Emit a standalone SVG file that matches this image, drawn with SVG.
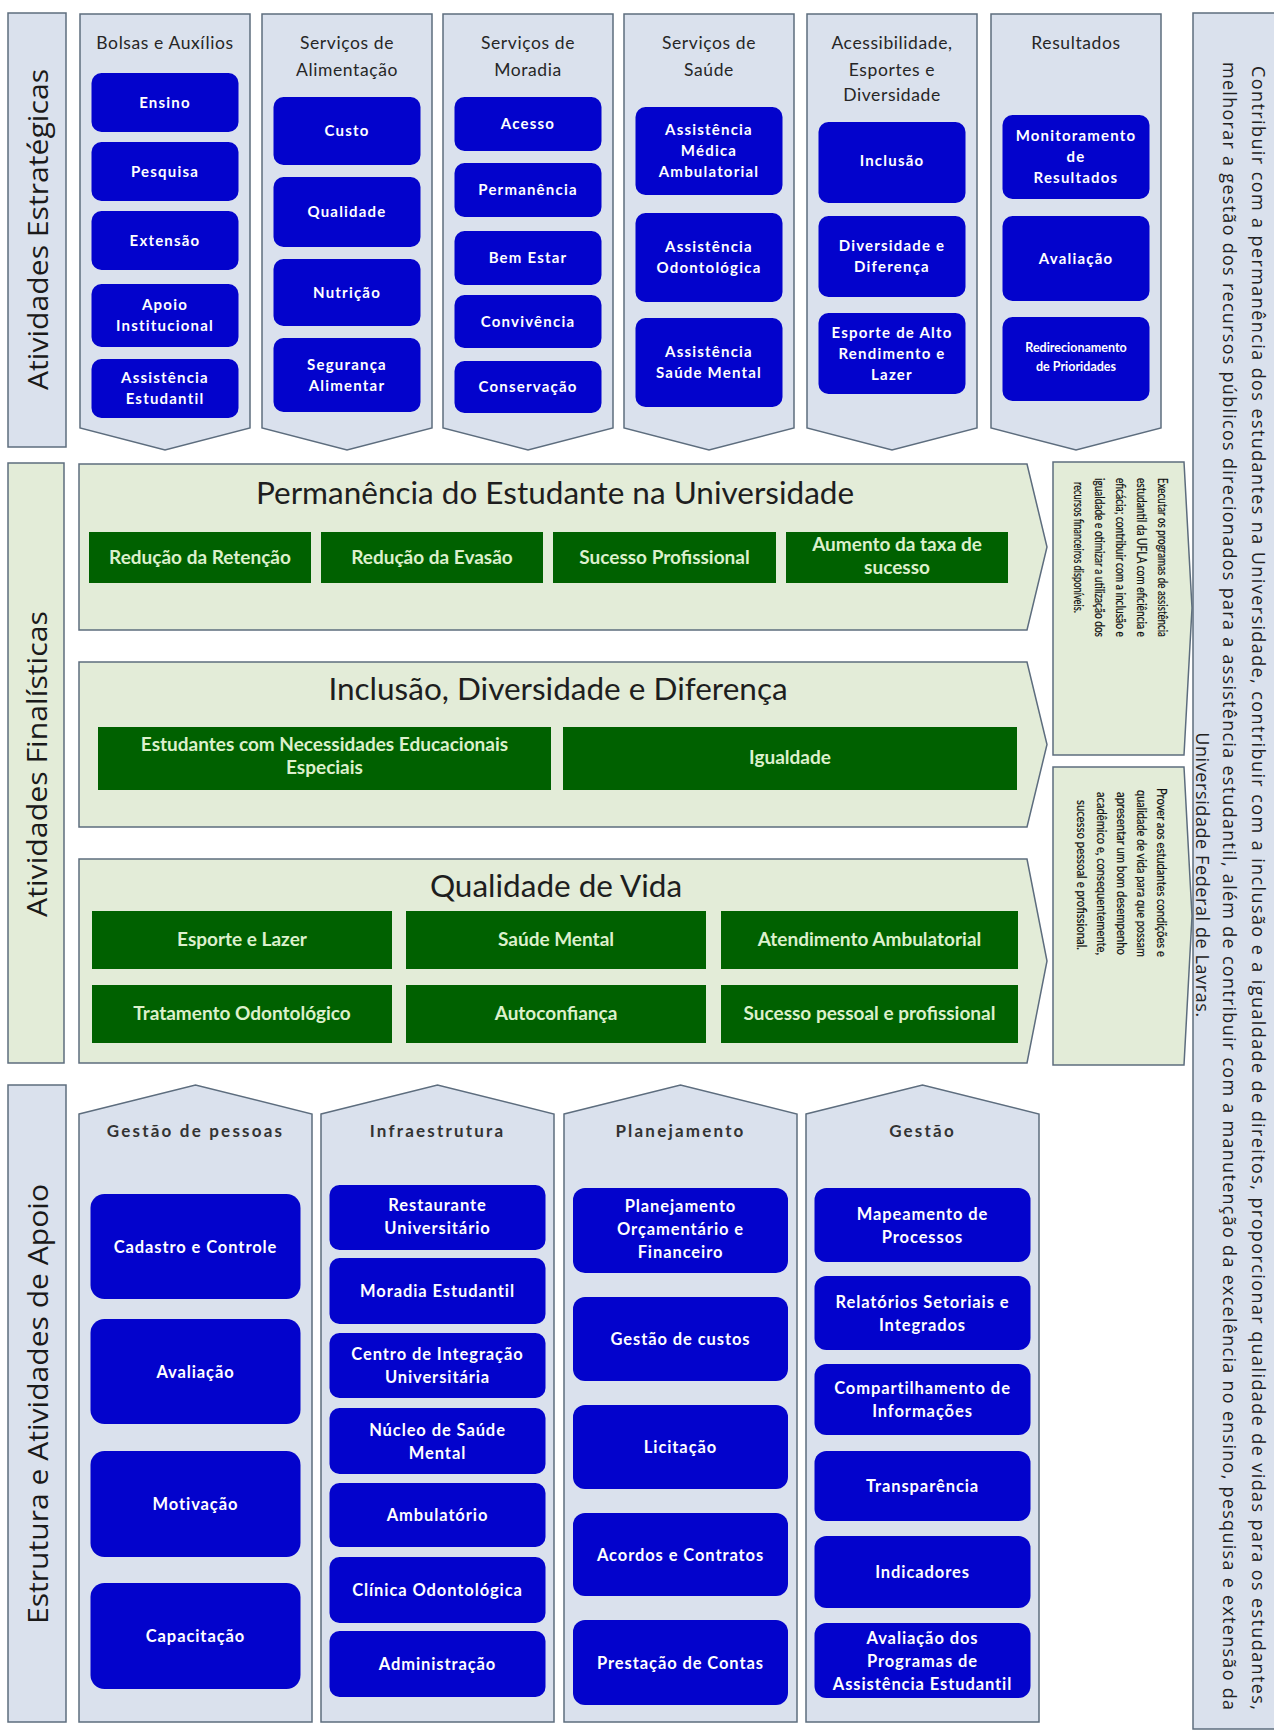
<svg xmlns="http://www.w3.org/2000/svg" width="1274" height="1736" viewBox="0 0 1274 1736">
  <style>
    .pb { fill: #dae1ed; stroke: #5d6d7e; stroke-width: 1.5; }
    .pg { fill: #e3ecd8; stroke: #5d6d7e; stroke-width: 1.5; }
    .blue { fill: #0303cc; }
    .green { fill: #006100; }
    .lbl { font-family: "Open Sans", "Liberation Sans", sans-serif; font-size: 27px; fill: #1a1a1a; text-anchor: middle; }
    .hdr { font-family: Lato, "Liberation Sans", sans-serif; font-size: 17.5px; fill: #262626; text-anchor: middle; letter-spacing: 0.6px; }
    .hdrb { font-family: Lato, "Liberation Sans", sans-serif; font-size: 17px; font-weight: bold; fill: #333333; text-anchor: middle; letter-spacing: 2.2px; }
    .bt { font-family: Lato, "Liberation Sans", sans-serif; font-size: 15px; font-weight: bold; fill: #ffffff; text-anchor: middle; letter-spacing: 1.2px; }
    .bts { font-family: Lato, "Liberation Sans", sans-serif; font-size: 12.5px; font-weight: bold; fill: #ffffff; text-anchor: middle; }
    .bb { font-family: Lato, "Liberation Sans", sans-serif; font-size: 16.5px; font-weight: bold; fill: #ffffff; text-anchor: middle; letter-spacing: 0.9px; }
    .gt { font-family: Lato, "Liberation Sans", sans-serif; font-size: 19px; font-weight: bold; fill: #dcf0cc; text-anchor: middle; }
    .ttl { font-family: Lato, "Liberation Sans", sans-serif; font-size: 31.5px; fill: #1e1e1e; text-anchor: middle; }
    .sm { font-family: Lato, "Liberation Sans", sans-serif; font-size: 12.5px; fill: #0f0f0f; stroke: #0f0f0f; stroke-width: 0.2px; }
    .big { font-family: "Open Sans", "Liberation Sans", sans-serif; font-size: 18px; fill: #222222; }
  </style>

  <rect width="1274" height="1736" fill="#ffffff"/>

  <!-- Side labels -->
  <g id="label-estrategicas">
    <rect class="pb" x="8" y="13" width="58" height="434"/>
    <text class="lbl" transform="translate(48,229.5) rotate(-90)" textLength="321" lengthAdjust="spacingAndGlyphs">Atividades Estratégicas</text>
  </g>
  <g id="label-finalisticas">
    <rect class="pg" x="8" y="463" width="56" height="600"/>
    <text class="lbl" transform="translate(47,764) rotate(-90)" textLength="306" lengthAdjust="spacingAndGlyphs">Atividades Finalísticas</text>
  </g>
  <g id="label-apoio">
    <rect class="pb" x="8" y="1085" width="58" height="637"/>
    <text class="lbl" transform="translate(48,1404) rotate(-90)" textLength="440" lengthAdjust="spacingAndGlyphs">Estrutura e Atividades de Apoio</text>
  </g>

  <!-- Mission statement -->
  <g id="missao">
    <rect class="pb" x="1193" y="13" width="100" height="1716"/>
    <text class="big" transform="translate(1252,66) rotate(90)" textLength="1644" lengthAdjust="spacing">Contribuir com a permanência dos estudantes na Universidade, contribuir com a inclusão e a igualdade de direitos, proporcionar qualidade de vidas para os estudantes,</text>
    <text class="big" transform="translate(1223,62) rotate(90)" textLength="1648" lengthAdjust="spacing">melhorar a gestão dos recursos públicos direcionados para a assistência estudantil, além de contribuir com a manutenção da excelência no ensino, pesquisa e extensão da</text>
    <text class="big" transform="translate(1196,875) rotate(90)" text-anchor="middle" letter-spacing="0.6">Universidade Federal de Lavras.</text>
  </g>

  <!-- Strategic activity columns -->
  <g id="col-bolsas">
    <polygon class="pb" points="80,14 250,14 250,428 165,450 80,428"/>
    <text class="hdr" x="165" y="49">Bolsas e Auxílios</text>
    <rect class="blue" x="91.5" y="73" width="147" height="59" rx="10"/>
    <text class="bt" x="165" y="107.5">Ensino</text>
    <rect class="blue" x="91.5" y="142" width="147" height="59" rx="10"/>
    <text class="bt" x="165" y="176.5">Pesquisa</text>
    <rect class="blue" x="91.5" y="211" width="147" height="59" rx="10"/>
    <text class="bt" x="165" y="245.5">Extensão</text>
    <rect class="blue" x="91.5" y="284" width="147" height="63" rx="10"/>
    <text class="bt" x="165" y="310">Apoio</text>
    <text class="bt" x="165" y="331">Institucional</text>
    <rect class="blue" x="91.5" y="359" width="147" height="59" rx="10"/>
    <text class="bt" x="165" y="383">Assistência</text>
    <text class="bt" x="165" y="404">Estudantil</text>
  </g>

  <g id="col-alimentacao">
    <polygon class="pb" points="262,14 432,14 432,428 347,450 262,428"/>
    <text class="hdr" x="347" y="49">Serviços de</text>
    <text class="hdr" x="347" y="76">Alimentação</text>
    <rect class="blue" x="273.5" y="97" width="147" height="68" rx="10"/>
    <text class="bt" x="347" y="136">Custo</text>
    <rect class="blue" x="273.5" y="177" width="147" height="70" rx="10"/>
    <text class="bt" x="347" y="217">Qualidade</text>
    <rect class="blue" x="273.5" y="259" width="147" height="67" rx="10"/>
    <text class="bt" x="347" y="297.5">Nutrição</text>
    <rect class="blue" x="273.5" y="338" width="147" height="74" rx="10"/>
    <text class="bt" x="347" y="369.5">Segurança</text>
    <text class="bt" x="347" y="390.5">Alimentar</text>
  </g>

  <g id="col-moradia">
    <polygon class="pb" points="443,14 613,14 613,428 528,450 443,428"/>
    <text class="hdr" x="528" y="49">Serviços de</text>
    <text class="hdr" x="528" y="76">Moradia</text>
    <rect class="blue" x="454.5" y="97" width="147" height="54" rx="10"/>
    <text class="bt" x="528" y="129">Acesso</text>
    <rect class="blue" x="454.5" y="163" width="147" height="54" rx="10"/>
    <text class="bt" x="528" y="195">Permanência</text>
    <rect class="blue" x="454.5" y="231" width="147" height="54" rx="10"/>
    <text class="bt" x="528" y="263">Bem Estar</text>
    <rect class="blue" x="454.5" y="295" width="147" height="53" rx="10"/>
    <text class="bt" x="528" y="326.5">Convivência</text>
    <rect class="blue" x="454.5" y="361" width="147" height="52" rx="10"/>
    <text class="bt" x="528" y="392">Conservação</text>
  </g>

  <g id="col-saude">
    <polygon class="pb" points="624,14 794,14 794,428 709,450 624,428"/>
    <text class="hdr" x="709" y="49">Serviços de</text>
    <text class="hdr" x="709" y="76">Saúde</text>
    <rect class="blue" x="635.5" y="107" width="147" height="88" rx="10"/>
    <text class="bt" x="709" y="135">Assistência</text>
    <text class="bt" x="709" y="156">Médica</text>
    <text class="bt" x="709" y="177">Ambulatorial</text>
    <rect class="blue" x="635.5" y="213" width="147" height="89" rx="10"/>
    <text class="bt" x="709" y="252">Assistência</text>
    <text class="bt" x="709" y="273">Odontológica</text>
    <rect class="blue" x="635.5" y="318" width="147" height="89" rx="10"/>
    <text class="bt" x="709" y="357">Assistência</text>
    <text class="bt" x="709" y="378">Saúde Mental</text>
  </g>

  <g id="col-acessibilidade">
    <polygon class="pb" points="807,14 977,14 977,428 892,450 807,428"/>
    <text class="hdr" x="892" y="49">Acessibilidade,</text>
    <text class="hdr" x="892" y="76">Esportes e</text>
    <text class="hdr" x="892" y="101">Diversidade</text>
    <rect class="blue" x="818.5" y="122" width="147" height="81" rx="10"/>
    <text class="bt" x="892" y="166">Inclusão</text>
    <rect class="blue" x="818.5" y="216" width="147" height="81" rx="10"/>
    <text class="bt" x="892" y="251">Diversidade e</text>
    <text class="bt" x="892" y="272">Diferença</text>
    <rect class="blue" x="818.5" y="313" width="147" height="81" rx="10"/>
    <text class="bt" x="892" y="337.5">Esporte de Alto</text>
    <text class="bt" x="892" y="358.5">Rendimento e</text>
    <text class="bt" x="892" y="379.5">Lazer</text>
  </g>

  <g id="col-resultados">
    <polygon class="pb" points="991,14 1161,14 1161,428 1076,450 991,428"/>
    <text class="hdr" x="1076" y="49">Resultados</text>
    <rect class="blue" x="1002.5" y="115" width="147" height="84" rx="10"/>
    <text class="bt" x="1076" y="141">Monitoramento</text>
    <text class="bt" x="1076" y="162">de</text>
    <text class="bt" x="1076" y="183">Resultados</text>
    <rect class="blue" x="1002.5" y="216" width="147" height="85" rx="10"/>
    <text class="bt" x="1076" y="263.5">Avaliação</text>
    <rect class="blue" x="1002.5" y="317" width="147" height="84" rx="10"/>
    <text class="bts" x="1076" y="352">Redirecionamento</text>
    <text class="bts" x="1076" y="371">de Prioridades</text>
  </g>

  <!-- Final activities (chevron bands) -->
  <g id="band-permanencia">
    <polygon class="pg" points="79,464 1027,464 1047,547 1027,630 79,630"/>
    <text class="ttl" x="555" y="504">Permanência do Estudante na Universidade</text>
    <rect class="green" x="89" y="532" width="222" height="51"/>
    <text class="gt" x="200" y="564">Redução da Retenção</text>
    <rect class="green" x="321" y="532" width="222" height="51"/>
    <text class="gt" x="432" y="564">Redução da Evasão</text>
    <rect class="green" x="553" y="532" width="223" height="51"/>
    <text class="gt" x="664.5" y="564">Sucesso Profissional</text>
    <rect class="green" x="786" y="532" width="222" height="51"/>
    <text class="gt" x="897" y="551">Aumento da taxa de</text>
    <text class="gt" x="897" y="574">sucesso</text>
  </g>

  <g id="band-inclusao">
    <polygon class="pg" points="79,662 1027,662 1047,744.5 1027,827 79,827"/>
    <text class="ttl" x="558" y="700">Inclusão, Diversidade e Diferença</text>
    <rect class="green" x="98" y="727" width="453" height="63"/>
    <text class="gt" x="324.5" y="751">Estudantes com Necessidades Educacionais</text>
    <text class="gt" x="324.5" y="774">Especiais</text>
    <rect class="green" x="563" y="727" width="454" height="63"/>
    <text class="gt" x="790" y="764">Igualdade</text>
  </g>

  <g id="band-qualidade">
    <polygon class="pg" points="79,859 1027,859 1047,961 1027,1063 79,1063"/>
    <text class="ttl" x="556" y="897">Qualidade de Vida</text>
    <rect class="green" x="92" y="911" width="300" height="58"/>
    <text class="gt" x="242" y="946">Esporte e Lazer</text>
    <rect class="green" x="406" y="911" width="300" height="58"/>
    <text class="gt" x="556" y="946">Saúde Mental</text>
    <rect class="green" x="721" y="911" width="297" height="58"/>
    <text class="gt" x="869.5" y="946">Atendimento Ambulatorial</text>
    <rect class="green" x="92" y="985" width="300" height="58"/>
    <text class="gt" x="242" y="1020">Tratamento Odontológico</text>
    <rect class="green" x="406" y="985" width="300" height="58"/>
    <text class="gt" x="556" y="1020">Autoconfiança</text>
    <rect class="green" x="721" y="985" width="297" height="58"/>
    <text class="gt" x="869.5" y="1020">Sucesso pessoal e profissional</text>
  </g>

  <!-- Objective notes -->
  <g id="objetivo-programas">
    <polygon class="pg" points="1053,462 1184,462 1192,608 1184,755 1053,755"/>
    <text class="sm" transform="translate(1158,478) rotate(90)" textLength="159" lengthAdjust="spacingAndGlyphs">Executar os programas de assistência</text>
    <text class="sm" transform="translate(1137,478) rotate(90)" textLength="159" lengthAdjust="spacingAndGlyphs">estudantil da UFLA com eficiência e</text>
    <text class="sm" transform="translate(1116,478) rotate(90)" textLength="159" lengthAdjust="spacingAndGlyphs">eficácia; contribuir com a inclusão e</text>
    <text class="sm" transform="translate(1095,478) rotate(90)" textLength="159" lengthAdjust="spacingAndGlyphs">igualdade e otimizar a utilização dos</text>
    <text class="sm" transform="translate(1074,482) rotate(90)" textLength="131" lengthAdjust="spacingAndGlyphs">recursos financeiros disponíveis.</text>
  </g>

  <g id="objetivo-qualidade">
    <polygon class="pg" points="1053,767 1184,767 1192,916 1184,1065 1053,1065"/>
    <text class="sm" transform="translate(1157,788) rotate(90)" textLength="169" lengthAdjust="spacingAndGlyphs">Prover aos estudantes condições e</text>
    <text class="sm" transform="translate(1137,790) rotate(90)" textLength="167" lengthAdjust="spacingAndGlyphs">qualidade de vida para que possam</text>
    <text class="sm" transform="translate(1117,792) rotate(90)" textLength="163" lengthAdjust="spacingAndGlyphs">apresentar um bom desempenho</text>
    <text class="sm" transform="translate(1097,792) rotate(90)" textLength="163" lengthAdjust="spacingAndGlyphs">acadêmico e, consequentemente,</text>
    <text class="sm" transform="translate(1077,800) rotate(90)" textLength="150" lengthAdjust="spacingAndGlyphs">sucesso pessoal e profissional.</text>
  </g>

  <!-- Support structure columns -->
  <g id="apoio-pessoas">
    <polygon class="pb" points="79,1114 195.5,1085 312,1114 312,1722 79,1722"/>
    <text class="hdrb" x="195.5" y="1137">Gestão de pessoas</text>
    <rect class="blue" x="90.5" y="1194" width="210" height="105" rx="14"/>
    <text class="bb" x="195.5" y="1252.5">Cadastro e Controle</text>
    <rect class="blue" x="90.5" y="1319" width="210" height="105" rx="14"/>
    <text class="bb" x="195.5" y="1377.5">Avaliação</text>
    <rect class="blue" x="90.5" y="1451" width="210" height="106" rx="14"/>
    <text class="bb" x="195.5" y="1510">Motivação</text>
    <rect class="blue" x="90.5" y="1583" width="210" height="106" rx="14"/>
    <text class="bb" x="195.5" y="1642">Capacitação</text>
  </g>

  <g id="apoio-infraestrutura">
    <polygon class="pb" points="321,1114 437.5,1085 554,1114 554,1722 321,1722"/>
    <text class="hdrb" x="437.5" y="1137">Infraestrutura</text>
    <rect class="blue" x="329.5" y="1185" width="216" height="65" rx="10"/>
    <text class="bb" x="437.5" y="1211">Restaurante</text>
    <text class="bb" x="437.5" y="1234">Universitário</text>
    <rect class="blue" x="329.5" y="1258" width="216" height="66" rx="10"/>
    <text class="bb" x="437.5" y="1297">Moradia Estudantil</text>
    <rect class="blue" x="329.5" y="1333" width="216" height="65" rx="10"/>
    <text class="bb" x="437.5" y="1360">Centro de Integração</text>
    <text class="bb" x="437.5" y="1383">Universitária</text>
    <rect class="blue" x="329.5" y="1408" width="216" height="66" rx="10"/>
    <text class="bb" x="437.5" y="1435.5">Núcleo de Saúde</text>
    <text class="bb" x="437.5" y="1458.5">Mental</text>
    <rect class="blue" x="329.5" y="1483" width="216" height="64" rx="10"/>
    <text class="bb" x="437.5" y="1521">Ambulatório</text>
    <rect class="blue" x="329.5" y="1557" width="216" height="66" rx="10"/>
    <text class="bb" x="437.5" y="1596">Clínica Odontológica</text>
    <rect class="blue" x="329.5" y="1631" width="216" height="66" rx="10"/>
    <text class="bb" x="437.5" y="1670">Administração</text>
  </g>

  <g id="apoio-planejamento">
    <polygon class="pb" points="564,1114 680.5,1085 797,1114 797,1722 564,1722"/>
    <text class="hdrb" x="680.5" y="1137">Planejamento</text>
    <rect class="blue" x="573" y="1188" width="215" height="85" rx="12"/>
    <text class="bb" x="680.5" y="1212">Planejamento</text>
    <text class="bb" x="680.5" y="1235">Orçamentário e</text>
    <text class="bb" x="680.5" y="1258">Financeiro</text>
    <rect class="blue" x="573" y="1297" width="215" height="84" rx="12"/>
    <text class="bb" x="680.5" y="1345">Gestão de custos</text>
    <rect class="blue" x="573" y="1405" width="215" height="84" rx="12"/>
    <text class="bb" x="680.5" y="1453">Licitação</text>
    <rect class="blue" x="573" y="1513" width="215" height="83" rx="12"/>
    <text class="bb" x="680.5" y="1560.5">Acordos e Contratos</text>
    <rect class="blue" x="573" y="1620" width="215" height="85" rx="12"/>
    <text class="bb" x="680.5" y="1668.5">Prestação de Contas</text>
  </g>

  <g id="apoio-gestao">
    <polygon class="pb" points="806,1114 922.5,1085 1039,1114 1039,1722 806,1722"/>
    <text class="hdrb" x="922.5" y="1137">Gestão</text>
    <rect class="blue" x="814.5" y="1188" width="216" height="74" rx="12"/>
    <text class="bb" x="922.5" y="1219.5">Mapeamento de</text>
    <text class="bb" x="922.5" y="1242.5">Processos</text>
    <rect class="blue" x="814.5" y="1276" width="216" height="74" rx="12"/>
    <text class="bb" x="922.5" y="1307.5">Relatórios Setoriais e</text>
    <text class="bb" x="922.5" y="1330.5">Integrados</text>
    <rect class="blue" x="814.5" y="1364" width="216" height="71" rx="12"/>
    <text class="bb" x="922.5" y="1394">Compartilhamento de</text>
    <text class="bb" x="922.5" y="1417">Informações</text>
    <rect class="blue" x="814.5" y="1451" width="216" height="70" rx="12"/>
    <text class="bb" x="922.5" y="1492">Transparência</text>
    <rect class="blue" x="814.5" y="1536" width="216" height="72" rx="12"/>
    <text class="bb" x="922.5" y="1578">Indicadores</text>
    <rect class="blue" x="814.5" y="1623" width="216" height="75" rx="12"/>
    <text class="bb" x="922.5" y="1643.5">Avaliação dos</text>
    <text class="bb" x="922.5" y="1666.5">Programas de</text>
    <text class="bb" x="922.5" y="1689.5">Assistência Estudantil</text>
  </g>
</svg>
